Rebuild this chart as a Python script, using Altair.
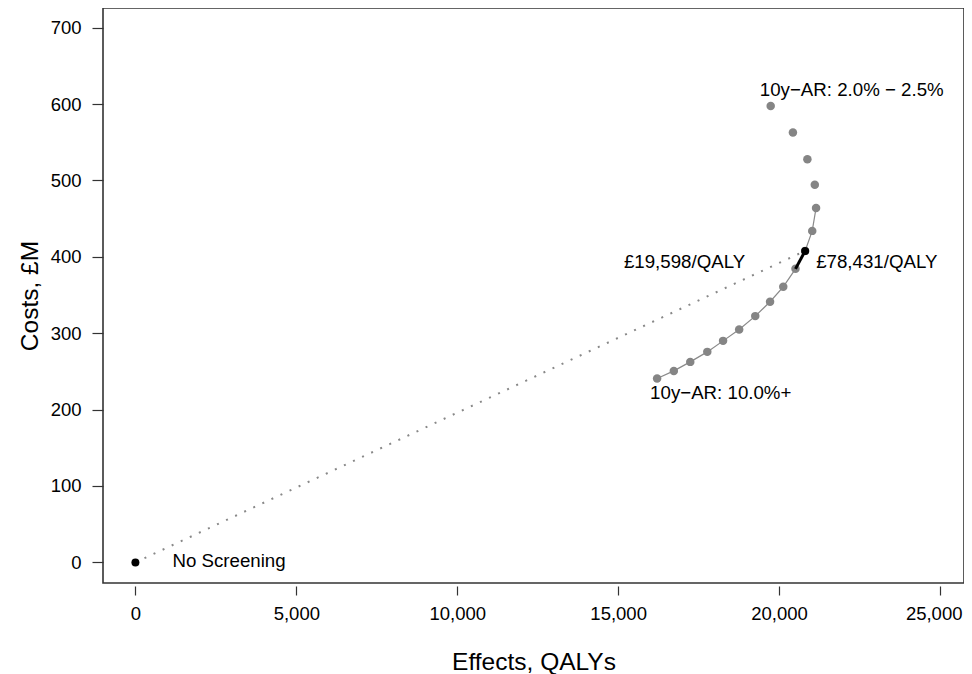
import altair as alt
import pandas as pd

# Strategies ordered from 10y-AR 2.0%-2.5% threshold to 10.0%+
effects = [19740, 20430, 20880, 21110, 21150, 21030, 20810, 20510, 20130,
           19720, 19260, 18760, 18260, 17770, 17240, 16730, 16210]
costs = [597.6, 562.7, 527.8, 494.5, 464.0, 434.0, 407.8, 384.3, 360.8,
         341.2, 322.4, 305.0, 290.0, 275.6, 262.5, 250.7, 240.8]
frontier_idx = list(range(4, 17))   # efficient frontier strategies
optimal_idx = 6                     # highlighted strategy
previous_idx = 7                    # next-best on frontier
x_ticks = [0, 5000, 10000, 15000, 20000, 25000]
y_ticks = [0, 100, 200, 300, 400, 500, 600, 700]

FONT = "Liberation Sans"

pts = pd.DataFrame({"effect": effects, "cost": costs})
front = pts.iloc[frontier_idx].reset_index(drop=True)
front["order"] = range(len(front))
base_pt = pd.DataFrame({"effect": [0], "cost": [0.0]})
opt = pts.iloc[[optimal_idx]].reset_index(drop=True)
dotted = pd.concat([base_pt, opt], ignore_index=True)
dotted["order"] = [0, 1]
seg = pts.iloc[[previous_idx, optimal_idx]].reset_index(drop=True)
seg["order"] = [0, 1]
black_pts = pd.concat([base_pt, opt], ignore_index=True)

xs = alt.Scale(domain=[-1007, 25746], nice=False, zero=False)
ys = alt.Scale(domain=[-27.0, 725.8], nice=False, zero=False)

X = alt.X("effect:Q", scale=xs, title="Effects, QALYs",
          axis=alt.Axis(values=x_ticks, format=",.0f", tickSize=9, offset=3,
                        labelPadding=9, titlePadding=28,
                        labelFlush=28, labelFlushOffset=22))
Y = alt.Y("cost:Q", scale=ys, title="Costs, £M",
          axis=alt.Axis(values=y_ticks, format="d", tickSize=11, offset=0,
                        labelPadding=11, titlePadding=8))

dotted_line = alt.Chart(dotted).mark_line(
    color="#888888", strokeWidth=2, strokeDash=[2, 8]
).encode(x=X, y=Y, order="order:O")

front_line = alt.Chart(front).mark_line(
    color="#8a8a8a", strokeWidth=1.2
).encode(x=X, y=Y, order="order:O")

grey_pts = alt.Chart(pts).mark_circle(
    color="#858585", opacity=1, size=72
).encode(x=X, y=Y)

seg_line = alt.Chart(seg).mark_line(
    color="black", strokeWidth=3
).encode(x=X, y=Y, order="order:O")

blk = alt.Chart(black_pts).mark_circle(
    color="black", opacity=1, size=64
).encode(x=X, y=Y)

tsize = 18.7


def label(df, text, align, dx, dy):
    d = df.copy()
    d["label"] = text
    return alt.Chart(d).mark_text(
        align=align, baseline="middle", dx=dx, dy=dy, font=FONT,
        fontSize=tsize, color="black"
    ).encode(x=X, y=Y, text="label:N")


lab_top = label(pts.iloc[[0]], "10y\u2212AR: 2.0% \u2212 2.5%", "center", 81, -16)
lab_bot = label(pts.iloc[[16]], "10y\u2212AR: 10.0%+", "left", -7, 15)
lab_icer1 = label(opt, "£19,598/QALY", "right", -60, 11)
lab_icer2 = label(opt, "£78,431/QALY", "left", 11, 11)
lab_none = label(base_pt, "No Screening", "left", 37, -1)

chart = alt.layer(
    dotted_line, front_line, grey_pts, seg_line, blk,
    lab_top, lab_bot, lab_icer1, lab_icer2, lab_none
).properties(
    width=861, height=575,
    autosize=alt.AutoSizeParams(type="none"),
    padding={"left": 95, "top": 0, "right": 0, "bottom": 93},
).configure_view(
    stroke="#333333", strokeWidth=1.6
).configure_axis(
    domain=False, grid=False, labelFont=FONT, titleFont=FONT,
    labelFontSize=18.5, titleFontSize=24.5, titleFontWeight="normal",
    labelColor="black", titleColor="black", tickColor="#333333",
    tickWidth=1.2
)

chart.save("out.html", embed_options={"renderer": "svg", "actions": False})
